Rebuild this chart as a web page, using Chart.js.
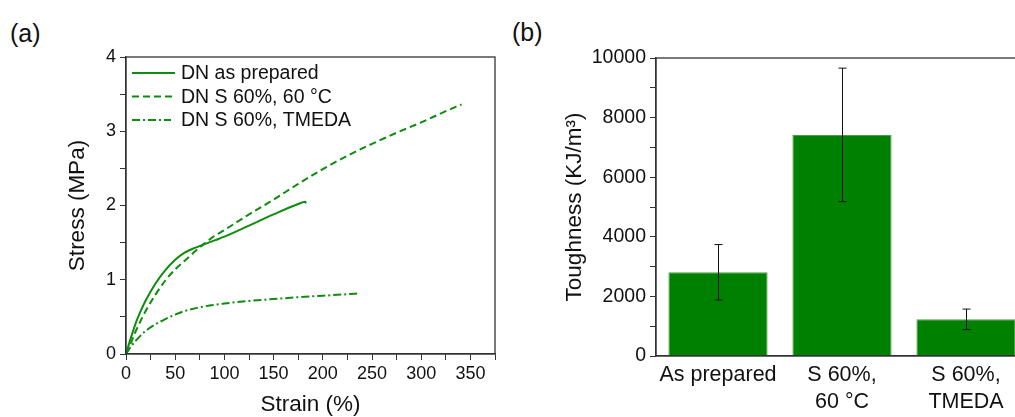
<!DOCTYPE html>
<html>
<head>
<meta charset="utf-8">
<script src="https://cdn.jsdelivr.net/npm/chart.js@4.4.1/dist/chart.umd.min.js"></script>
<style>
html, body { margin: 0; padding: 0; overflow: hidden; background: #fff; }
body { width: 1015px; height: 417px; position: relative; }
#boxA { position: absolute; left: 0; top: 0; width: 505px; height: 417px; }
#boxB { position: absolute; left: 505px; top: 0; width: 530px; height: 417px; }
.tag { position: absolute; font-family: "Liberation Sans", Arial, sans-serif; font-size: 25px; color: #111; line-height: 30px; }
</style>
</head>
<body>
<div class="tag" style="left:10px; top:18px;">(a)</div>
<div class="tag" style="left:512px; top:17px;">(b)</div>
<div id="boxA"><canvas id="stressChart" width="505" height="417"></canvas></div>
<div id="boxB"><canvas id="toughChart" width="530" height="417"></canvas></div>
<script>
// (a) stress-strain curves
const strainPrepared = [0, 5, 10, 15, 20, 30, 40, 50, 60, 70, 80, 90, 100, 125, 150, 175, 182, 183];
const stressPrepared = [0, 0.22, 0.42, 0.58, 0.72, 0.95, 1.13, 1.27, 1.37, 1.43, 1.48, 1.53, 1.58, 1.73, 1.88, 2.02, 2.05, 2.03];

const strainHeated = [0, 5, 10, 15, 20, 30, 40, 50, 60, 70, 80, 90, 100, 125, 150, 175, 200, 225, 250, 275, 300, 325, 341];
const stressHeated = [0, 0.15, 0.31, 0.45, 0.58, 0.80, 0.99, 1.14, 1.26, 1.38, 1.49, 1.59, 1.67, 1.88, 2.08, 2.29, 2.49, 2.67, 2.83, 2.98, 3.12, 3.27, 3.36];

const strainTmeda = [0, 5, 10, 20, 30, 40, 50, 60, 75, 100, 125, 150, 175, 200, 225, 236];
const stressTmeda = [0, 0.1, 0.18, 0.31, 0.4, 0.47, 0.53, 0.58, 0.63, 0.68, 0.715, 0.74, 0.765, 0.785, 0.805, 0.815];

const curveLabels = ['DN as prepared', 'DN S 60%, 60 °C', 'DN S 60%, TMEDA'];

// (b) toughness bars
const samples = [['As prepared'], ['S 60%,', '60 °C'], ['S 60%,', 'TMEDA']];
const toughness = [2810, 7420, 1230];
const toughnessErr = [930, 2240, 345];

Chart.defaults.font.family = '"Liberation Sans", Arial, sans-serif';
Chart.defaults.color = '#111';

const green = 'rgb(14,140,14)';
const axisColor = '#333';

function toPoints(xs, ys) {
    return xs.map(function(x, i) { return {x: x, y: ys[i]}; });
}

// box around the plot area
const frame = {
    id: 'frame',
    afterDraw(chart) {
        const a = chart.chartArea, ctx = chart.ctx;
        ctx.save();
        ctx.strokeStyle = axisColor;
        ctx.lineWidth = 1.3;
        ctx.strokeRect(a.left, a.top, a.right - a.left, a.bottom - a.top);
        ctx.restore();
    }
};

// legend inside the plot, top left
const innerLegend = {
    id: 'innerLegend',
    afterDraw(chart) {
        const a = chart.chartArea, ctx = chart.ctx;
        ctx.save();
        ctx.font = '19.5px "Liberation Sans", Arial, sans-serif';
        ctx.textBaseline = 'middle';
        chart.data.datasets.forEach(function(ds, i) {
            let y = a.top + 16 + i * 23.5;
            let x0 = a.left + 6;
            ctx.strokeStyle = ds.borderColor;
            ctx.lineWidth = ds.borderWidth;
            ctx.setLineDash(ds.borderDash || []);
            ctx.beginPath();
            ctx.moveTo(x0, y);
            ctx.lineTo(x0 + (i === 2 ? 39 : 43), y);
            ctx.stroke();
            ctx.setLineDash([]);
            ctx.fillStyle = '#111';
            ctx.fillText(ds.label, x0 + 49, y + 1);
        });
        ctx.restore();
    }
};

// error bars on top of the bars
const errorBars = {
    id: 'errorBars',
    afterDatasetsDraw(chart) {
        const ctx = chart.ctx;
        const yScale = chart.scales.y;
        const meta = chart.getDatasetMeta(0);
        ctx.save();
        ctx.strokeStyle = '#111';
        ctx.lineWidth = 1;
        meta.data.forEach(function(bar, i) {
            let v = toughness[i], e = toughnessErr[i];
            let yt = yScale.getPixelForValue(v + e);
            let yb = yScale.getPixelForValue(v - e);
            let x = Math.round(bar.x) + 0.5;
            ctx.beginPath();
            ctx.moveTo(x, yt); ctx.lineTo(x, yb);
            ctx.moveTo(x - 4, yt); ctx.lineTo(x + 4, yt);
            ctx.moveTo(x - 4, yb); ctx.lineTo(x + 4, yb);
            ctx.stroke();
        });
        ctx.restore();
    }
};

new Chart(document.getElementById('stressChart'), {
    type: 'scatter',
    data: {
        datasets: [{
            label: curveLabels[0],
            data: toPoints(strainPrepared, stressPrepared),
            borderColor: green, borderWidth: 2, borderDash: []
        }, {
            label: curveLabels[1],
            data: toPoints(strainHeated, stressHeated),
            borderColor: green, borderWidth: 2, borderDash: [7, 4]
        }, {
            label: curveLabels[2],
            data: toPoints(strainTmeda, stressTmeda),
            borderColor: green, borderWidth: 2, borderDash: [8, 3, 2, 3]
        }]
    },
    options: {
        responsive: false,
        animation: false,
        showLine: true,
        cubicInterpolationMode: 'monotone',
        elements: { point: { radius: 0 } },
        layout: { padding: { left: 0, top: 57, right: 10, bottom: 0 } },
        plugins: { legend: { display: false }, tooltip: { enabled: false } },
        scales: {
            x: {
                type: 'linear', min: 0, max: 375,
                afterFit(scale) { scale.height = 63; },
                grid: { drawOnChartArea: false, tickLength: 6, color: axisColor },
                border: { color: axisColor, width: 1.3 },
                ticks: {
                    stepSize: 25, autoSkip: false, maxRotation: 0, padding: 3,
                    font: { size: 18 }, color: '#111',
                    callback: function(v) { return v % 50 === 0 ? v : ''; }
                },
                title: {
                    display: true, text: 'Strain (%)', color: '#111',
                    font: { size: 22.5, lineHeight: 1.05 }, padding: { top: 0, bottom: 0 }
                }
            },
            y: {
                min: 0, max: 4,
                afterFit(scale) { scale.width = 126; },
                grid: { drawOnChartArea: false, tickLength: 6, color: axisColor },
                border: { color: axisColor, width: 1.3 },
                ticks: {
                    stepSize: 0.5, autoSkip: false, padding: 4,
                    font: { size: 18 }, color: '#111',
                    callback: function(v) { return v % 1 === 0 ? v : ''; }
                },
                title: {
                    display: true, text: 'Stress (MPa)', color: '#111',
                    font: { size: 22.5 }, padding: { top: 64, bottom: 0 }
                }
            }
        }
    },
    plugins: [frame, innerLegend]
});

new Chart(document.getElementById('toughChart'), {
    type: 'bar',
    data: {
        labels: samples,
        datasets: [{
            data: toughness,
            backgroundColor: 'rgb(0,128,0)',
            borderColor: 'rgb(70,160,70)',
            borderWidth: 1,
            barPercentage: 0.8,
            categoryPercentage: 1.0
        }]
    },
    options: {
        responsive: false,
        animation: false,
        layout: { padding: { left: 0, top: 58, right: 7, bottom: 0 } },
        plugins: { legend: { display: false }, tooltip: { enabled: false } },
        scales: {
            x: {
                afterFit(scale) { scale.height = 61; },
                grid: { display: false, drawTicks: false },
                border: { color: axisColor, width: 1.3 },
                ticks: {
                    autoSkip: false, maxRotation: 0, padding: 6,
                    font: { size: 21.5, lineHeight: 1.25 }, color: '#111'
                }
            },
            y: {
                min: 0, max: 10000,
                afterFit(scale) { scale.width = 151; },
                grid: { drawOnChartArea: false, tickLength: 6, color: axisColor },
                border: { color: axisColor, width: 1.3 },
                ticks: {
                    stepSize: 1000, autoSkip: false, padding: 4,
                    font: { size: 19.5 }, color: '#111',
                    callback: function(v) { return v % 2000 === 0 ? v : ''; }
                },
                title: {
                    display: true, text: 'Toughness (KJ/m³)', color: '#111',
                    font: { size: 22.5 }, padding: { top: 56, bottom: 0 }
                }
            }
        }
    },
    plugins: [frame, errorBars]
});
</script>
</body>
</html>
